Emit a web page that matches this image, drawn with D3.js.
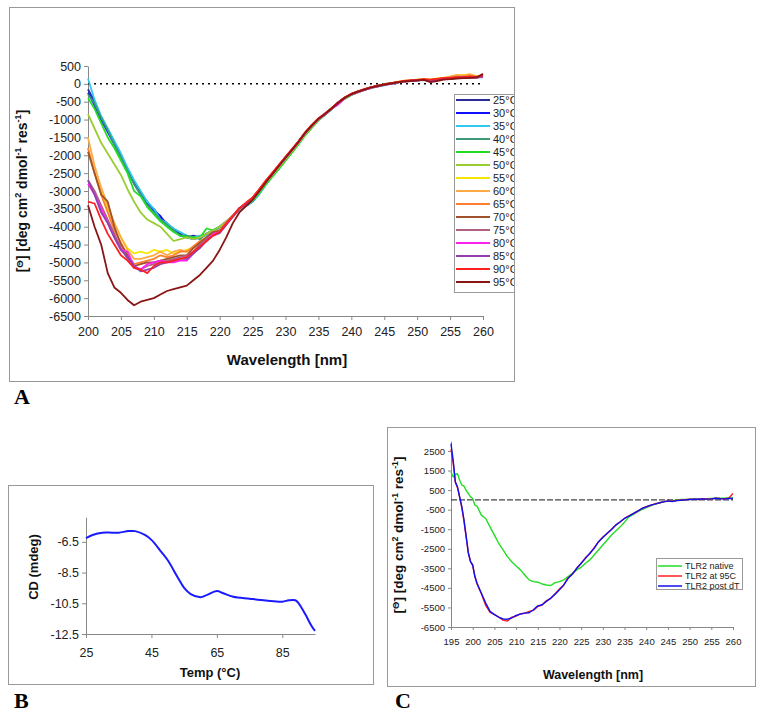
<!DOCTYPE html>
<html><head><meta charset="utf-8">
<script src="https://cdn.jsdelivr.net/npm/d3@7"></script>
<style>body{margin:0;background:#fff}svg{display:block}</style>
</head><body>
<script>
// ---------- Panel A data ----------
const waveA = d3.range(200, 261, 1);
const tempLabelsA = ["25°C","30°C","35°C","40°C","45°C","50°C","55°C","60°C","65°C","70°C","75°C","80°C","85°C","90°C","95°C"];
const colorsA = ["#2a2a9a","#1010ff","#30c8f0","#3c9a78","#22dd22","#9acd32","#f5e600","#ffaa44","#ff8030","#a0522d","#b06080","#ff22ee","#9040b0","#ff2020","#8b1515"];
const s25 = [-150,-500,-950,-1300,-1650,-2000,-2400,-2750,-3050,-3350,-3500,-3750,-3900,-4100,-4200,-4300,-4250,-4300,-4200,-4150,-4050,-3870,-3690,-3520,-3400,-3270,-3050,-2800,-2580,-2360,-2120,-1900,-1660,-1420,-1200,-1010,-860,-700,-550,-410,-300,-230,-170,-110,-60,-30,10,40,70,80,100,110,100,120,140,150,170,180,190,180,200];
const s30 = [-250,-600,-1000,-1350,-1700,-2050,-2400,-2800,-3100,-3300,-3550,-3700,-3950,-4050,-4250,-4300,-4350,-4300,-4200,-4100,-4000,-3850,-3700,-3480,-3420,-3300,-3070,-2790,-2560,-2350,-2080,-1870,-1640,-1390,-1180,-990,-850,-690,-520,-390,-290,-220,-160,-100,-70,-20,0,50,60,90,100,120,90,110,130,150,160,180,170,190,190];
const s35 = [150,-450,-900,-1250,-1600,-1950,-2350,-2700,-3000,-3300,-3500,-3800,-3900,-4050,-4150,-4250,-4300,-4250,-4250,-4150,-4050,-3900,-3700,-3550,-3420,-3300,-3100,-2830,-2600,-2380,-2130,-1900,-1680,-1420,-1210,-1010,-870,-710,-550,-410,-310,-240,-160,-120,-80,-40,0,30,70,90,100,100,110,120,130,160,160,170,180,190,180];
const s40 = [-300,-550,-950,-1300,-1700,-2050,-2450,-2800,-3100,-3400,-3600,-3800,-3950,-4100,-4250,-4250,-4300,-4350,-4200,-4100,-4000,-3860,-3680,-3500,-3390,-3260,-3040,-2800,-2570,-2350,-2110,-1890,-1660,-1410,-1200,-1000,-860,-700,-540,-400,-300,-230,-170,-110,-70,-30,10,40,70,80,100,110,100,120,140,150,170,180,190,180,200];
const s45 = [-400,-700,-1100,-1500,-1800,-2150,-2500,-3000,-3150,-3450,-3650,-3850,-4000,-4150,-4250,-4300,-4300,-4300,-4050,-4100,-4000,-3880,-3720,-3520,-3400,-3280,-3060,-2820,-2600,-2380,-2150,-1930,-1690,-1440,-1230,-1020,-870,-710,-550,-420,-310,-240,-170,-110,-60,0,20,50,80,90,110,120,110,130,140,160,170,190,200,190,210];
const s50 = [-850,-1250,-1650,-1950,-2250,-2550,-2950,-3300,-3600,-3800,-3900,-4000,-4200,-4400,-4350,-4300,-4350,-4300,-4200,-4100,-4000,-3850,-3700,-3510,-3380,-3250,-3020,-2770,-2550,-2330,-2100,-1880,-1650,-1400,-1200,-1000,-860,-700,-540,-400,-300,-230,-170,-110,-70,-30,0,40,70,80,100,110,100,120,140,150,170,180,190,180,200];
const s55 = [-1800,-2500,-3000,-3500,-3900,-4300,-4600,-4750,-4700,-4750,-4650,-4700,-4650,-4750,-4700,-4650,-4600,-4500,-4350,-4200,-4100,-3900,-3700,-3500,-3370,-3230,-3000,-2760,-2540,-2310,-2080,-1870,-1640,-1390,-1190,-990,-850,-690,-530,-390,-290,-220,-160,-100,-60,-20,10,60,90,100,120,130,120,150,170,200,230,250,260,220,200];
const s60 = [-1500,-2300,-2900,-3400,-3900,-4300,-4650,-4900,-4900,-4850,-4800,-4700,-4800,-4700,-4650,-4700,-4550,-4450,-4300,-4150,-4100,-3870,-3680,-3490,-3360,-3220,-2990,-2750,-2530,-2300,-2080,-1860,-1630,-1380,-1180,-990,-850,-690,-530,-390,-290,-220,-160,-100,-60,-20,10,50,80,100,120,130,110,140,170,200,250,230,270,210,230];
const s65 = [-1800,-2500,-3100,-3600,-4100,-4450,-4800,-5050,-5000,-4950,-4900,-4800,-4850,-4800,-4700,-4700,-4550,-4400,-4300,-4150,-4100,-3880,-3690,-3480,-3350,-3200,-2970,-2730,-2510,-2290,-2060,-1840,-1620,-1370,-1170,-980,-840,-680,-520,-380,-280,-210,-150,-100,-60,-20,10,50,80,100,110,120,110,130,160,180,200,210,230,200,220];
const s70 = [-1900,-2500,-3100,-3300,-4000,-4500,-4800,-5100,-5050,-5000,-5000,-4950,-4900,-4850,-4800,-4800,-4600,-4450,-4300,-4150,-4120,-3900,-3700,-3480,-3340,-3190,-2960,-2720,-2500,-2270,-2050,-1830,-1600,-1350,-1150,-970,-830,-680,-520,-380,-280,-210,-150,-100,-60,-20,10,40,70,90,100,120,110,130,150,170,180,190,200,190,220];
const s75 = [-2700,-3000,-3400,-3800,-4200,-4600,-4900,-5150,-5200,-5100,-5050,-5000,-4950,-4900,-4850,-4800,-4700,-4500,-4350,-4200,-4150,-3920,-3710,-3490,-3350,-3200,-2970,-2730,-2510,-2290,-2060,-1840,-1610,-1370,-1160,-980,-840,-690,-530,-390,-290,-220,-160,-100,-60,-20,10,40,70,90,100,110,100,120,150,160,180,180,190,170,200];
const s80 = [-2800,-3100,-3500,-3900,-4300,-4650,-4700,-5100,-5200,-5050,-5000,-4950,-5000,-5000,-4950,-4950,-4750,-4550,-4400,-4200,-4150,-3930,-3720,-3500,-3360,-3220,-2990,-2750,-2530,-2300,-2080,-1860,-1630,-1380,-1170,-990,-860,-700,-580,-400,-300,-230,-170,-110,-70,-30,0,40,70,80,100,110,100,120,150,160,170,180,190,180,200];
const s85 = [-2700,-3100,-3600,-3900,-4300,-4650,-4850,-5100,-5250,-5200,-5150,-5050,-5000,-4950,-4900,-4900,-4750,-4600,-4400,-4250,-4180,-3950,-3720,-3500,-3350,-3210,-2980,-2740,-2520,-2290,-2070,-1850,-1620,-1370,-1170,-980,-850,-690,-530,-390,-290,-220,-160,-100,-60,-20,10,40,70,90,100,110,100,120,140,150,170,180,190,180,200];
const s90 = [-3300,-3350,-3800,-4200,-4500,-4800,-4950,-5150,-5200,-5300,-5100,-5000,-5000,-4950,-4900,-4850,-4700,-4550,-4400,-4250,-4150,-3920,-3700,-3480,-3330,-3180,-2950,-2710,-2490,-2270,-2040,-1820,-1600,-1360,-1150,-970,-830,-680,-520,-380,-280,-210,-150,-90,-50,-10,20,50,80,100,110,130,120,140,160,170,180,190,200,190,240];
const s95 = [-3400,-4000,-4500,-5300,-5700,-5850,-6050,-6200,-6100,-6050,-6000,-5900,-5800,-5750,-5700,-5650,-5500,-5350,-5150,-4950,-4650,-4300,-3900,-3600,-3420,-3250,-3010,-2760,-2530,-2300,-2070,-1850,-1620,-1370,-1170,-980,-840,-690,-530,-390,-290,-220,-160,-100,-60,-20,10,40,70,80,100,110,50,80,120,130,150,160,170,180,280];
const seriesA = [s25,s30,s35,s40,s45,s50,s55,s60,s65,s70,s75,s80,s85,s90,s95];
const yTicksA = [500,0,-500,-1000,-1500,-2000,-2500,-3000,-3500,-4000,-4500,-5000,-5500,-6000,-6500];
const xTicksA = [200,205,210,215,220,225,230,235,240,245,250,255,260];

// ---------- Panel B data ----------
const tempB = [25,27,30,33,35,38,40,43,45,48,50,53,55,57,60,62,65,67,70,75,80,85,87,89,90,92,94,95];
const cdB = [-6.25,-6.05,-5.9,-5.9,-5.9,-5.8,-5.8,-6.05,-6.37,-7.15,-7.7,-8.8,-9.5,-9.9,-10.1,-9.95,-9.7,-9.85,-10.07,-10.2,-10.32,-10.4,-10.3,-10.3,-10.5,-11.2,-12.0,-12.3];
const yTicksB = [-6.5,-8.5,-10.5,-12.5];
const xTicksB = [25,45,65,85];

// ---------- Panel C data ----------
const waveC = [195,195.5,196,196.5,197,197.5,198,198.5,199,199.5,200,200.5,201,202,203,204,205,206,207,208,209,210,211,212,213,214,215,216,217,218,219,220,221,222,223,224,225,226,227,228,229,230,231,232,233,234,235,236,237,238,239,240,241,242,243,244,245,246,247,248,249,250,251,252,253,254,255,256,257,258,259,260];
const native = [1430,1170,1300,1340,1000,760,700,480,320,150,70,-270,-320,-780,-950,-1380,-1800,-2220,-2560,-2900,-3160,-3380,-3580,-3840,-4090,-4180,-4210,-4300,-4350,-4380,-4230,-4180,-4090,-3920,-3750,-3580,-3450,-3240,-3070,-2820,-2560,-2310,-2050,-1800,-1590,-1380,-1140,-870,-740,-610,-500,-390,-300,-220,-160,-100,-70,-50,0,20,20,30,40,50,60,60,70,80,90,90,100,100];
const at95 = [2600,1900,900,620,120,-400,-1100,-1900,-2700,-3150,-3350,-3900,-4300,-4800,-5400,-5750,-5850,-6000,-6150,-6200,-6000,-5950,-5820,-5800,-5700,-5650,-5450,-5380,-5150,-5050,-4800,-4550,-4350,-3980,-3800,-3480,-3250,-2950,-2750,-2450,-2150,-1900,-1720,-1500,-1280,-1130,-940,-820,-700,-580,-450,-350,-280,-200,-160,-90,-60,-70,-30,-10,10,30,40,20,60,50,40,90,70,60,80,330];
const postdT = [2870,2020,920,660,150,-360,-1040,-1880,-2730,-3160,-3330,-3920,-4260,-4770,-5280,-5700,-5870,-5990,-6090,-6100,-6040,-5910,-5840,-5790,-5770,-5620,-5420,-5360,-5190,-5020,-4820,-4600,-4350,-4010,-3790,-3500,-3240,-2990,-2730,-2480,-2140,-1920,-1710,-1510,-1290,-1120,-950,-830,-700,-580,-440,-360,-270,-220,-150,-100,-50,-80,-40,-20,0,20,40,30,50,40,50,80,60,50,70,70];
const namesC = ["TLR2 native","TLR2 at 95C","TLR2 post dT"];
const colorsC = ["#22dd22","#ff2020","#1010ee"];
const yTicksC = [2500,1500,500,-500,-1500,-2500,-3500,-4500,-5500,-6500];
const xTicksC = [195,200,205,210,215,220,225,230,235,240,245,250,255,260];

// ---------- drawing ----------
const W = 764, H = 717;
const svg = d3.select("body").append("svg").attr("width", W).attr("height", H)
  .style("font-family", "'Liberation Sans', Arial, sans-serif");
const fmt = d => String(d);
const frameCol = "#999", axisCol = "#888", txtCol = "#222";

function styleAxis(g, fs) {
  g.selectAll(".domain").attr("stroke", axisCol);
  g.selectAll(".tick line").attr("stroke", axisCol);
  g.selectAll(".tick text").attr("fill", txtCol).style("font-size", fs + "px")
    .style("font-family", "'Liberation Sans', Arial, sans-serif");
}
function yTitle(x, y, fs) {
  const t = svg.append("text").attr("transform", `translate(${x},${y}) rotate(-90)`)
    .attr("text-anchor", "middle").attr("font-weight", "bold").attr("font-size", fs).attr("fill", "#111");
  t.append("tspan").text("[");
  t.append("tspan").attr("font-size", fs * 0.7).attr("dy", -fs * 0.3).text("Θ");
  t.append("tspan").attr("dy", fs * 0.3).text("] [deg cm");
  t.append("tspan").attr("font-size", fs * 0.65).attr("dy", -fs * 0.4).text("2");
  t.append("tspan").attr("dy", fs * 0.4).text(" dmol");
  t.append("tspan").attr("font-size", fs * 0.65).attr("dy", -fs * 0.4).text("-1");
  t.append("tspan").attr("dy", fs * 0.4).text(" res");
  t.append("tspan").attr("font-size", fs * 0.65).attr("dy", -fs * 0.4).text("-1");
  t.append("tspan").attr("dy", fs * 0.4).text("]");
}
function panelLetter(x, y, s) {
  svg.append("text").attr("x", x).attr("y", y).text(s)
    .attr("font-family", "'Liberation Serif', 'Times New Roman', serif")
    .attr("font-weight", "bold").attr("font-size", 22).attr("fill", "#000");
}

// ===== Panel A =====
svg.append("defs").append("clipPath").attr("id", "clipA")
  .append("rect").attr("x", 9).attr("y", 7).attr("width", 505).attr("height", 374);
svg.append("rect").attr("x", 9.5).attr("y", 7.5).attr("width", 505).attr("height", 374)
  .attr("fill", "#fff").attr("stroke", frameCol);
const xA = d3.scaleLinear().domain([200, 260]).range([88, 483]);
const yA = d3.scaleLinear().domain([-6500, 500]).range([316, 66]);
const gxA = svg.append("g").attr("transform", "translate(0,316)")
  .call(d3.axisBottom(xA).tickValues(xTicksA).tickFormat(fmt).tickSize(4).tickSizeOuter(0));
styleAxis(gxA, 12.5);
gxA.selectAll(".tick text").attr("dy", "1.05em");
const gyA = svg.append("g").attr("transform", "translate(88,0)")
  .call(d3.axisLeft(yA).tickValues(yTicksA).tickFormat(fmt).tickSize(4).tickSizeOuter(0));
styleAxis(gyA, 12.5);
svg.append("line").attr("x1", xA(200)).attr("x2", xA(260)).attr("y1", yA(0)).attr("y2", yA(0))
  .attr("stroke", "#000").attr("stroke-width", 1.5).attr("stroke-dasharray", "2,4");
const lineA = d3.line().x((d, i) => xA(waveA[i])).y(d => yA(d));
seriesA.forEach((s, k) => {
  svg.append("path").datum(s).attr("d", lineA).attr("fill", "none")
    .attr("stroke", colorsA[k]).attr("stroke-width", 1.8).attr("stroke-linejoin", "round");
});
yTitle(27, 191, 14);
svg.append("text").attr("x", 287).attr("y", 365).attr("text-anchor", "middle")
  .attr("font-weight", "bold").attr("font-size", 15).attr("fill", "#111").text("Wavelength [nm]");
const legA = svg.append("g").attr("clip-path", "url(#clipA)");
legA.append("rect").attr("x", 454.5).attr("y", 94.5).attr("width", 75).attr("height", 198)
  .attr("fill", "#fff").attr("stroke", frameCol);
tempLabelsA.forEach((t, k) => {
  const y = 100 + k * 13;
  legA.append("line").attr("x1", 456).attr("x2", 490).attr("y1", y).attr("y2", y)
    .attr("stroke", colorsA[k]).attr("stroke-width", 2);
  legA.append("text").attr("x", 493).attr("y", y).attr("dy", "0.35em")
    .attr("font-size", 11).attr("fill", txtCol).text(t);
});
panelLetter(14, 404, "A");

// ===== Panel B =====
svg.append("rect").attr("x", 8.5).attr("y", 485.5).attr("width", 365).attr("height", 199)
  .attr("fill", "#fff").attr("stroke", frameCol);
const xB = d3.scaleLinear().domain([25, 95]).range([86, 315]);
const yB = d3.scaleLinear().domain([-12.5, -4.9]).range([634, 517.3]);
const gxB = svg.append("g").attr("transform", "translate(0,634)")
  .call(d3.axisBottom(xB).tickValues(xTicksB).tickFormat(fmt).tickSize(4).tickSizeOuter(0));
styleAxis(gxB, 12.5);
gxB.selectAll(".tick text").attr("dy", "1.3em");
const gyB = svg.append("g").attr("transform", "translate(86,0)")
  .call(d3.axisLeft(yB).tickValues(yTicksB).tickFormat(fmt).tickSize(4).tickSizeOuter(0));
styleAxis(gyB, 12.5);
svg.append("path").datum(cdB)
  .attr("d", d3.line().x((d, i) => xB(tempB[i])).y(d => yB(d)).curve(d3.curveCatmullRom))
  .attr("fill", "none").attr("stroke", "#1a1aff").attr("stroke-width", 2);
svg.append("text").attr("transform", "translate(38,567) rotate(-90)").attr("text-anchor", "middle")
  .attr("font-weight", "bold").attr("font-size", 13).attr("fill", "#111").text("CD  (mdeg)");
svg.append("text").attr("x", 210).attr("y", 677).attr("text-anchor", "middle")
  .attr("font-weight", "bold").attr("font-size", 13).attr("fill", "#111").text("Temp (°C)");
panelLetter(14, 708, "B");

// ===== Panel C =====
svg.append("rect").attr("x", 387.5).attr("y", 427.5).attr("width", 368).attr("height", 259)
  .attr("fill", "#fff").attr("stroke", frameCol);
const xC = d3.scaleLinear().domain([195, 260]).range([451, 733]);
const yC = d3.scaleLinear().domain([-6500, 3000]).range([627, 441.2]);
const gxC = svg.append("g").attr("transform", "translate(0,627)")
  .call(d3.axisBottom(xC).tickValues(xTicksC).tickFormat(fmt).tickSize(3).tickSizeOuter(0));
styleAxis(gxC, 9.5);
gxC.selectAll(".tick text").attr("dy", "1.25em");
const gyC = svg.append("g").attr("transform", "translate(451,0)")
  .call(d3.axisLeft(yC).tickValues(yTicksC).tickFormat(fmt).tickSize(3).tickSizeOuter(0));
styleAxis(gyC, 9.5);
svg.append("line").attr("x1", xC(195)).attr("x2", xC(260)).attr("y1", yC(0)).attr("y2", yC(0))
  .attr("stroke", "#444").attr("stroke-width", 1.2).attr("stroke-dasharray", "6,2");
const lineC = d3.line().x((d, i) => xC(waveC[i])).y(d => yC(d));
[native, at95, postdT].forEach((s, k) => {
  svg.append("path").datum(s).attr("d", lineC).attr("fill", "none")
    .attr("stroke", colorsC[k]).attr("stroke-width", 1.4).attr("stroke-linejoin", "round");
});
yTitle(403, 535, 13.5);
svg.append("text").attr("x", 593).attr("y", 679).attr("text-anchor", "middle")
  .attr("font-weight", "bold").attr("font-size", 12.5).attr("fill", "#111").text("Wavelength [nm]");
svg.append("rect").attr("x", 656.5).attr("y", 558.5).attr("width", 86).attr("height", 31)
  .attr("fill", "#fff").attr("stroke", frameCol);
namesC.forEach((n, k) => {
  const y = 566 + k * 10;
  svg.append("line").attr("x1", 658).attr("x2", 682).attr("y1", y).attr("y2", y)
    .attr("stroke", colorsC[k]).attr("stroke-width", 1.5);
  svg.append("text").attr("x", 685).attr("y", y).attr("dy", "0.35em")
    .attr("font-size", 9).attr("fill", txtCol).text(n);
});
panelLetter(395, 708, "C");
</script>
</body></html>
